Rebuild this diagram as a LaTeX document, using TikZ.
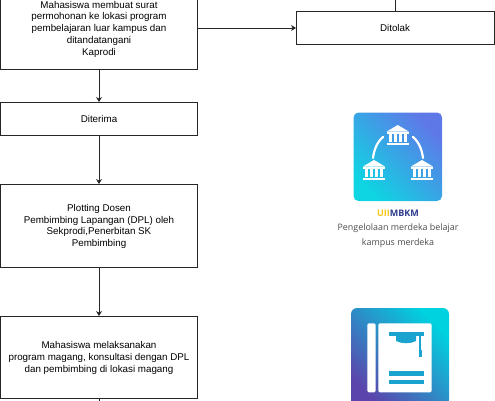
\documentclass[tikz,border=0pt]{standalone}
\usepackage{fontspec}
\setmainfont{Liberation Sans}
\newfontfamily\captionfont{Open Sans}
\usepackage{xcolor}
\usetikzlibrary{arrows.meta,positioning}
\definecolor{capteal}{HTML}{1BA3CF}
\definecolor{uiiyellow}{HTML}{F5C518}
\definecolor{uiinavy}{HTML}{2B3A8C}
\definecolor{blueone}{HTML}{0FD4E2}
\definecolor{bluetwo}{HTML}{22A9E8}
\definecolor{bluethree}{HTML}{5F78E8}
\definecolor{bookone}{HTML}{5B45AC}
\definecolor{booktwo}{HTML}{1AA2CE}
\definecolor{bookthree}{HTML}{00D2E0}

\begin{document}
\begin{tikzpicture}[x=1pt, y=-1pt,
  state/.style={rectangle, draw=black!85, line width=0.8pt, minimum width=197pt, outer sep=0pt, align=center, text depth=0pt, font=\fontsize{9.8}{11.75}\selectfont},
  line/.style={draw=black!85, line width=0.8pt, -{Stealth[length=5pt,width=6pt]}},
  plainline/.style={draw=black!85, line width=0.8pt},
  caption/.style={font=\captionfont\fontsize{8.9}{15}\selectfont, text=black!70, align=center},
  logoblue/.style={rounded corners=5pt, shading=axis, bottom color=blueone, middle color=bluetwo, top color=bluethree, shading angle=-45},
  logobook/.style={rounded corners=6pt, shading=axis, bottom color=bookone, middle color=booktwo, top color=bookthree, shading angle=-45},
  bank/.pic={
    \fill[white] (0,-10) -- (11,-3.5) -- (-11,-3.5) -- cycle;
    \fill[white] (-11,-2.8) rectangle (11,-1.4);
    \foreach \colx in {-7.5,-2.5,2.5,7.5}
      \fill[white] (\colx-1.3,-0.6) rectangle (\colx+1.3,7);
    \fill[white] (-11,7.8) rectangle (11,10);
  }]
  \clip (0,0) rectangle (495,400);

  \node [state, minimum height=82pt] (surat) at (99,28) {Mahasiswa membuat surat\\permohonan ke lokasi program\\pembelajaran luar kampus dan\\ditandatangani\\Kaprodi};
  \node [state, minimum height=33pt, below=33pt of surat] (diterima) {Diterima};
  \node [state, minimum height=83pt, below=49pt of diterima] (plotting) {Plotting Dosen\\Pembimbing Lapangan (DPL) oleh\\Sekprodi,Penerbitan SK\\Pembimbing};
  \node [state, minimum height=82pt, below=49pt of plotting] (magang) {Mahasiswa melaksanakan\\program magang, konsultasi dengan DPL\\dan pembimbing di lokasi magang};
  \node [state, minimum width=198pt, minimum height=33pt] (ditolak) at (395,28) {Ditolak};

  \coordinate (atas) at (395,-6);
  \coordinate (bawah) at (99,406);

  \path [line] (surat) -- (diterima);
  \path [line] (diterima) -- (plotting);
  \path [line] (plotting) -- (magang);
  \path [line] (surat.east) -- (ditolak.west);
  \path [plainline] (atas) -- (ditolak.north);
  \path [plainline] (magang.south) -- (bawah);

  % logo mbkm
  \path [logoblue] (353.5,112.5) rectangle (442,201);
  \pic at (397.7,135) {bank};
  \pic at (374,170) {bank};
  \pic at (422,170) {bank};
  \draw [white, line width=2.2pt, line cap=round] (383,137) .. controls (377,142) and (374,150) .. (373,158);
  \draw [white, line width=2.2pt, line cap=round] (413,137) .. controls (419,142) and (422,150) .. (423,158);
  \node [font=\captionfont\bfseries\fontsize{9}{11}\selectfont, inner sep=0pt] (mbkm) at (398,213) {\textcolor{uiiyellow}{UII}\textcolor{uiinavy}{MBKM}};
  \node [caption, inner sep=0pt, below=7pt of mbkm] (kelola) {Pengelolaan merdeka belajar\\kampus merdeka};

  % logo buku
  \path [logobook] (351,308) rectangle (449,406);
  \fill [white, rounded corners=1.5pt] (367.3,323.3) rectangle (375.7,392.3);
  \fill [white, rounded corners=1.5pt] (378.3,323.3) rectangle (431.7,392.3);
  \fill [capteal] (389,332) rectangle (424,336);
  \fill [capteal] (396,336) -- (416,336) -- (416,341) .. controls (410,344) and (402,344) .. (396,341) -- cycle;
  \fill [capteal] (419,336) rectangle (421,351);
  \fill [capteal] (418.5,350) rectangle (421.5,357);
  \fill [capteal] (389,371) rectangle (424,375.5);
  \fill [capteal] (389,379.7) rectangle (424,384);
\end{tikzpicture}
\end{document}
